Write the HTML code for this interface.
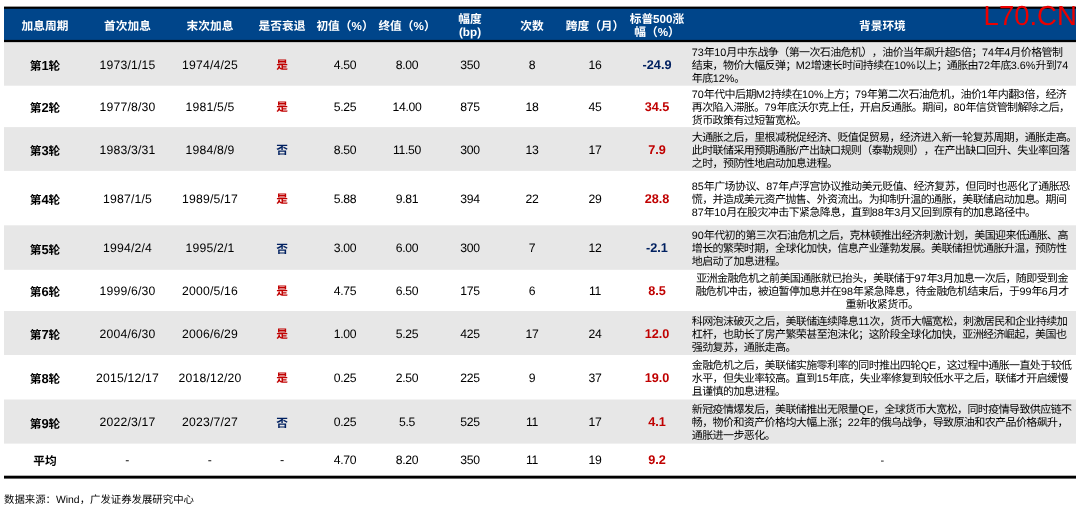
<!DOCTYPE html>
<html lang="zh-CN">
<head>
<meta charset="utf-8">
<title>美联储历次加息周期</title>
<style>
html,body{margin:0;padding:0;background:#fff;}
body{width:1080px;height:507px;position:relative;overflow:hidden;font-family:"Liberation Sans","Noto Sans CJK SC",sans-serif;color:#000;text-spacing-trim:space-all;text-rendering:geometricPrecision;}
#pr{position:absolute;left:0;top:0;font-size:100px;line-height:0;}
#prt{height:0;overflow:hidden;white-space:nowrap;visibility:hidden;}
#q{container-type:inline-size;}
#wrap{position:absolute;left:0;top:0;width:1080px;height:507px;will-change:transform;font-size:12px;line-height:14px;}
.a{position:absolute;}
.c{position:absolute;white-space:nowrap;transform:translate(-50%,-50%);font-size:12.7px;line-height:14px;text-align:center;}
.b{font-weight:bold;}
.dt{font-size:12.2px;letter-spacing:0.2px;}
.nm{font-size:12.2px;letter-spacing:-0.3px;}
.cj{font-size:11.7px;}
.cj b{font-size:13px;}
.r{color:#c00000;}
.n{color:#002060;}
.h{color:#fff;font-weight:bold;font-size:11.7px;line-height:13px;}
.d{position:absolute;white-space:nowrap;font-size:11px;letter-spacing:-0.6px;line-height:13px;height:13px;}
.j{text-align:justify;text-align-last:justify;}
.d i{font-style:normal;letter-spacing:0;font-size:10.8px;}
.src{position:absolute;left:4px;top:494px;font-size:10.4px;line-height:14px;white-space:nowrap;}
.wm{position:absolute;left:983.6px;top:1.4px;font-size:27.5px;line-height:30px;color:#ec0000;white-space:nowrap;}
</style>
</head>
<body>
<div id="pr"><div id="prt">中国中国</div><div id="q">
<div id="wrap">
<svg class="a" style="left:0;top:0" width="1080" height="507" viewBox="0 0 1080 507">
<rect x="4" y="6.6" width="1072" height="35.8" fill="#000"/>
<rect x="4" y="8.8" width="1072" height="31.1" fill="#00458a"/>
<rect x="4" y="42.4" width="1072" height="43.3" fill="#e7e7e7"/>
<rect x="4" y="127.1" width="1072" height="43.8" fill="#e7e7e7"/>
<rect x="4" y="225.3" width="1072" height="44.5" fill="#e7e7e7"/>
<rect x="4" y="311.0" width="1072" height="44.0" fill="#e7e7e7"/>
<rect x="4" y="399.5" width="1072" height="44.1" fill="#e7e7e7"/>
<rect x="4" y="475.7" width="1072" height="2.9" fill="#000"/>
</svg>
<div class="c h k" style="left:45.0px;top:25.7px;">加息周期</div>
<div class="c h k" style="left:127.5px;top:25.7px;">首次加息</div>
<div class="c h k" style="left:210.0px;top:25.7px;">末次加息</div>
<div class="c h k" style="left:282.0px;top:25.7px;">是否衰退</div>
<div class="c h k" style="left:345.0px;top:25.7px;">初值（%）</div>
<div class="c h k" style="left:407.0px;top:25.7px;">终值（%）</div>
<div class="c h k" style="left:470.0px;top:25.7px;">幅度<br>(bp)</div>
<div class="c h k" style="left:532.0px;top:25.7px;">次数</div>
<div class="c h k" style="left:595.0px;top:25.7px;">跨度（月）</div>
<div class="c h k" style="left:657.0px;top:25.7px;">标普500涨<br>幅（%）</div>
<div class="c h k" style="left:882.4px;top:25.7px;">背景环境</div>
<div class="c b cj k" style="left:45.0px;top:66.0px;">第<b>1</b>轮</div>
<div class="c dt" style="left:127.5px;top:64.8px;">1973/1/15</div>
<div class="c dt" style="left:210.0px;top:64.8px;">1974/4/25</div>
<div class="c b cj k r" style="left:282.0px;top:66.0px;">是</div>
<div class="c nm" style="left:345.0px;top:64.8px;">4.50</div>
<div class="c nm" style="left:407.0px;top:64.8px;">8.00</div>
<div class="c nm" style="left:470.0px;top:64.8px;">350</div>
<div class="c nm" style="left:532.0px;top:64.8px;">8</div>
<div class="c nm" style="left:595.0px;top:64.8px;">16</div>
<div class="c b n" style="left:657.0px;top:64.8px;">-24.9</div>
<div class="d j k" style="left:691.8px;width:370.6px;top:46.6px;"><i>73</i>年<i>10</i>月中东战争（第一次石油危机），油价当年飙升超<i>5</i>倍；<i>74</i>年<i>4</i>月价格管制</div>
<div class="d j k" style="left:691.8px;width:376.5px;top:59.6px;">结束，物价大幅反弹；<i>M2</i>增速长时间持续在<i>10%</i>以上；通胀由<i>72</i>年底<i>3.6%</i>升到<i>74</i></div>
<div class="d j k" style="left:691.8px;width:52.9px;top:72.6px;">年底<i>12%</i>。</div>
<div class="c b cj k" style="left:45.0px;top:108.4px;">第<b>2</b>轮</div>
<div class="c dt" style="left:127.5px;top:107.2px;">1977/8/30</div>
<div class="c dt" style="left:210.0px;top:107.2px;">1981/5/5</div>
<div class="c b cj k r" style="left:282.0px;top:108.4px;">是</div>
<div class="c nm" style="left:345.0px;top:107.2px;">5.25</div>
<div class="c nm" style="left:407.0px;top:107.2px;">14.00</div>
<div class="c nm" style="left:470.0px;top:107.2px;">875</div>
<div class="c nm" style="left:532.0px;top:107.2px;">18</div>
<div class="c nm" style="left:595.0px;top:107.2px;">45</div>
<div class="c b r" style="left:657.0px;top:107.2px;">34.5</div>
<div class="d j k" style="left:691.8px;width:374.4px;top:89.0px;"><i>70</i>年代中后期<i>M2</i>持续在<i>10%</i>上方；<i>79</i>年第二次石油危机，油价<i>1</i>年内翻<i>3</i>倍，经济</div>
<div class="d j k" style="left:691.8px;width:377.7px;top:102.0px;">再次陷入滞胀。<i>79</i>年底沃尔克上任，开启反通胀。期间，<i>80</i>年信贷管制解除之后，</div>
<div class="d j k" style="left:691.8px;width:114.5px;top:115.0px;">货币政策有过短暂宽松。</div>
<div class="c b cj k" style="left:45.0px;top:151.0px;">第<b>3</b>轮</div>
<div class="c dt" style="left:127.5px;top:149.8px;">1983/3/31</div>
<div class="c dt" style="left:210.0px;top:149.8px;">1984/8/9</div>
<div class="c b cj k n" style="left:282.0px;top:151.0px;">否</div>
<div class="c nm" style="left:345.0px;top:149.8px;">8.50</div>
<div class="c nm" style="left:407.0px;top:149.8px;">11.50</div>
<div class="c nm" style="left:470.0px;top:149.8px;">300</div>
<div class="c nm" style="left:532.0px;top:149.8px;">13</div>
<div class="c nm" style="left:595.0px;top:149.8px;">17</div>
<div class="c b r" style="left:657.0px;top:149.8px;">7.9</div>
<div class="d j k" style="left:691.8px;width:384.9px;top:131.6px;">大通胀之后，里根减税促经济、贬值促贸易，经济进入新一轮复苏周期，通胀走高。</div>
<div class="d j k" style="left:691.8px;width:377.5px;top:144.6px;">此时联储采用预期通胀<i>/</i>产出缺口规则（泰勒规则），在产出缺口回升、失业率回落</div>
<div class="d j k" style="left:691.8px;width:145.7px;top:157.6px;">之时，预防性地启动加息进程。</div>
<div class="c b cj k" style="left:45.0px;top:200.1px;">第<b>4</b>轮</div>
<div class="c dt" style="left:127.5px;top:198.9px;">1987/1/5</div>
<div class="c dt" style="left:210.0px;top:198.9px;">1989/5/17</div>
<div class="c b cj k r" style="left:282.0px;top:200.1px;">是</div>
<div class="c nm" style="left:345.0px;top:198.9px;">5.88</div>
<div class="c nm" style="left:407.0px;top:198.9px;">9.81</div>
<div class="c nm" style="left:470.0px;top:198.9px;">394</div>
<div class="c nm" style="left:532.0px;top:198.9px;">22</div>
<div class="c nm" style="left:595.0px;top:198.9px;">29</div>
<div class="c b r" style="left:657.0px;top:198.9px;">28.8</div>
<div class="d j k" style="left:691.8px;width:377.7px;top:180.7px;"><i>85</i>年广场协议、<i>87</i>年卢浮宫协议推动美元贬值、经济复苏，但同时也恶化了通胀恐</div>
<div class="d j k" style="left:691.8px;width:374.5px;top:193.7px;">慌，并造成美元资产抛售、外资流出。为抑制升温的通胀，美联储启动加息。期间</div>
<div class="d j k" style="left:691.8px;width:343.7px;top:206.7px;"><i>87</i>年<i>10</i>月在股灾冲击下紧急降息，直到<i>88</i>年<i>3</i>月又回到原有的加息路径中。</div>
<div class="c b cj k" style="left:45.0px;top:249.6px;">第<b>5</b>轮</div>
<div class="c dt" style="left:127.5px;top:248.3px;">1994/2/4</div>
<div class="c dt" style="left:210.0px;top:248.3px;">1995/2/1</div>
<div class="c b cj k n" style="left:282.0px;top:249.6px;">否</div>
<div class="c nm" style="left:345.0px;top:248.3px;">3.00</div>
<div class="c nm" style="left:407.0px;top:248.3px;">6.00</div>
<div class="c nm" style="left:470.0px;top:248.3px;">300</div>
<div class="c nm" style="left:532.0px;top:248.3px;">7</div>
<div class="c nm" style="left:595.0px;top:248.3px;">12</div>
<div class="c b n" style="left:657.0px;top:248.3px;">-2.1</div>
<div class="d j k" style="left:691.8px;width:376.1px;top:230.2px;"><i>90</i>年代初的第三次石油危机之后，克林顿推出经济刺激计划，美国迎来低通胀、高</div>
<div class="d j k" style="left:691.8px;width:374.5px;top:243.2px;">增长的繁荣时期，全球化加快，信息产业蓬勃发展。美联储担忧通胀升温，预防性</div>
<div class="d j k" style="left:691.8px;width:93.7px;top:256.2px;">地启动了加息进程。</div>
<div class="c b cj k" style="left:45.0px;top:292.4px;">第<b>6</b>轮</div>
<div class="c dt" style="left:127.5px;top:291.1px;">1999/6/30</div>
<div class="c dt" style="left:210.0px;top:291.1px;">2000/5/16</div>
<div class="c b cj k r" style="left:282.0px;top:292.4px;">是</div>
<div class="c nm" style="left:345.0px;top:291.1px;">4.75</div>
<div class="c nm" style="left:407.0px;top:291.1px;">6.50</div>
<div class="c nm" style="left:470.0px;top:291.1px;">175</div>
<div class="c nm" style="left:532.0px;top:291.1px;">6</div>
<div class="c nm" style="left:595.0px;top:291.1px;">11</div>
<div class="c b r" style="left:657.0px;top:291.1px;">8.5</div>
<div class="d j k" style="left:696.2px;width:371.7px;top:273.0px;">亚洲金融危机之前美国通胀就已抬头，美联储于<i>97</i>年<i>3</i>月加息一次后，随即受到金</div>
<div class="d j k" style="left:695.4px;width:373.3px;top:285.8px;">融危机冲击，被迫暂停加息并在<i>98</i>年紧急降息，待金融危机结束后，于<i>99</i>年<i>6</i>月才</div>
<div class="d j k" style="left:845.6px;width:72.9px;top:298.6px;">重新收紧货币。</div>
<div class="c b cj k" style="left:45.0px;top:335.0px;">第<b>7</b>轮</div>
<div class="c dt" style="left:127.5px;top:333.8px;">2004/6/30</div>
<div class="c dt" style="left:210.0px;top:333.8px;">2006/6/29</div>
<div class="c b cj k r" style="left:282.0px;top:335.0px;">是</div>
<div class="c nm" style="left:345.0px;top:333.8px;">1.00</div>
<div class="c nm" style="left:407.0px;top:333.8px;">5.25</div>
<div class="c nm" style="left:470.0px;top:333.8px;">425</div>
<div class="c nm" style="left:532.0px;top:333.8px;">17</div>
<div class="c nm" style="left:595.0px;top:333.8px;">24</div>
<div class="c b r" style="left:657.0px;top:333.8px;">12.0</div>
<div class="d j k" style="left:691.8px;width:375.3px;top:315.6px;">科网泡沫破灭之后，美联储连续降息<i>11</i>次，货币大幅宽松，刺激居民和企业持续加</div>
<div class="d j k" style="left:691.8px;width:374.5px;top:328.6px;">杠杆，也助长了房产繁荣甚至泡沫化；这阶段全球化加快，亚洲经济崛起，美国也</div>
<div class="d j k" style="left:691.8px;width:104.0px;top:341.6px;">强劲复苏，通胀走高。</div>
<div class="c b cj k" style="left:45.0px;top:379.2px;">第<b>8</b>轮</div>
<div class="c dt" style="left:127.5px;top:378.0px;">2015/12/17</div>
<div class="c dt" style="left:210.0px;top:378.0px;">2018/12/20</div>
<div class="c b cj k r" style="left:282.0px;top:379.2px;">是</div>
<div class="c nm" style="left:345.0px;top:378.0px;">0.25</div>
<div class="c nm" style="left:407.0px;top:378.0px;">2.50</div>
<div class="c nm" style="left:470.0px;top:378.0px;">225</div>
<div class="c nm" style="left:532.0px;top:378.0px;">9</div>
<div class="c nm" style="left:595.0px;top:378.0px;">37</div>
<div class="c b r" style="left:657.0px;top:378.0px;">19.0</div>
<div class="d j k" style="left:691.8px;width:379.7px;top:359.9px;">金融危机之后，美联储实施零利率的同时推出四轮<i>QE</i>，这过程中通胀一直处于较低</div>
<div class="d j k" style="left:691.8px;width:376.1px;top:372.9px;">水平，但失业率较高。直到<i>15</i>年底，失业率修复到较低水平之后，联储才开启缓慢</div>
<div class="d j k" style="left:691.8px;width:93.7px;top:385.9px;">且谨慎的加息进程。</div>
<div class="c b cj k" style="left:45.0px;top:423.6px;">第<b>9</b>轮</div>
<div class="c dt" style="left:127.5px;top:422.3px;">2022/3/17</div>
<div class="c dt" style="left:210.0px;top:422.3px;">2023/7/27</div>
<div class="c b cj k n" style="left:282.0px;top:423.6px;">否</div>
<div class="c nm" style="left:345.0px;top:422.3px;">0.25</div>
<div class="c nm" style="left:407.0px;top:422.3px;">5.5</div>
<div class="c nm" style="left:470.0px;top:422.3px;">525</div>
<div class="c nm" style="left:532.0px;top:422.3px;">11</div>
<div class="c nm" style="left:595.0px;top:422.3px;">17</div>
<div class="c b r" style="left:657.0px;top:422.3px;">4.1</div>
<div class="d j k" style="left:691.8px;width:379.7px;top:404.2px;">新冠疫情爆发后，美联储推出无限量<i>QE</i>，全球货币大宽松，同时疫情导致供应链不</div>
<div class="d j k" style="left:691.8px;width:376.1px;top:417.2px;">畅，物价和资产价格均大幅上涨；<i>22</i>年的俄乌战争，导致原油和农产品价格飙升，</div>
<div class="d j k" style="left:691.8px;width:83.3px;top:430.2px;">通胀进一步恶化。</div>
<div class="c b cj k" style="left:45.0px;top:461.6px;">平均</div>
<div class="c dt" style="left:127.5px;top:460.4px;">-</div>
<div class="c dt" style="left:210.0px;top:460.4px;">-</div>
<div class="c" style="left:282.0px;top:460.4px;">-</div>
<div class="c nm" style="left:345.0px;top:460.4px;">4.70</div>
<div class="c nm" style="left:407.0px;top:460.4px;">8.20</div>
<div class="c nm" style="left:470.0px;top:460.4px;">350</div>
<div class="c nm" style="left:532.0px;top:460.4px;">11</div>
<div class="c nm" style="left:595.0px;top:460.4px;">19</div>
<div class="c b r" style="left:657.0px;top:460.4px;">9.2</div>
<div class="d" style="left:691.5px;width:381px;text-align:center;top:455.1px;">-</div>
<div class="src k">数据来源：Wind，广发证券发展研究中心</div>
<div class="wm">L70.CN</div>
</div>
</div></div>
</body>
</html>
